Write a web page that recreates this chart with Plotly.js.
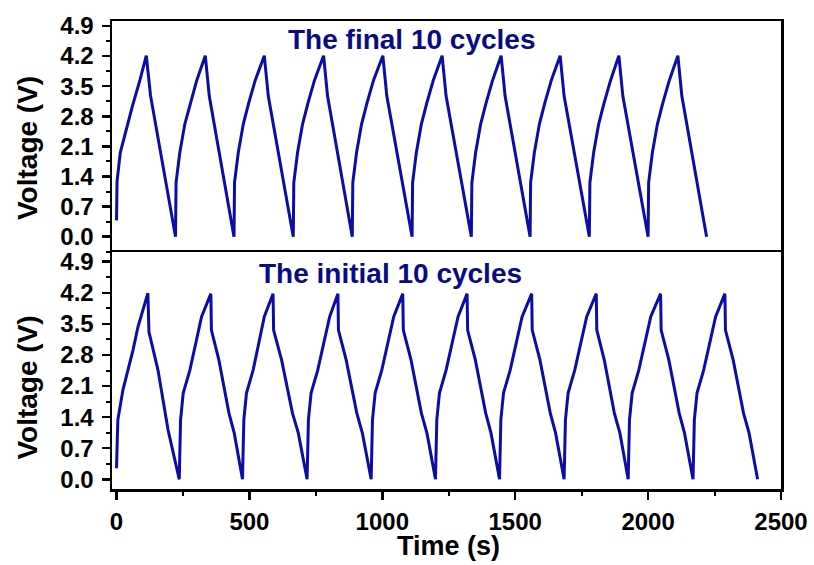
<!DOCTYPE html>
<html>
<head>
<meta charset="utf-8">
<script src="https://cdn.plot.ly/plotly-3.0.1.min.js"></script>
<style>
  html, body { margin: 0; padding: 0; background: #ffffff; }
  #chart { width: 814px; height: 565px; }
</style>
</head>
<body>
<div id="chart"></div>
<script>
// Galvanostatic charge/discharge profiles, one row per cycle.

// Final 10 cycles (upper panel)
const finalTime = [
  0, 2, 14, 34, 59, 88, 112, 128, 222,
  224, 238, 257, 277, 302, 334, 349, 442,
  444, 458, 477, 497, 522, 556, 571, 665,
  667, 681, 700, 720, 745, 779, 794, 887,
  889, 903, 922, 942, 967, 1002, 1017, 1112,
  1114, 1128, 1147, 1167, 1192, 1225, 1240, 1335,
  1337, 1351, 1370, 1390, 1415, 1447, 1462, 1556,
  1558, 1572, 1591, 1611, 1636, 1669, 1684, 1779,
  1781, 1795, 1814, 1834, 1859, 1890, 1905, 2000,
  2002, 2016, 2035, 2055, 2080, 2112, 2127, 2220
];
const finalVoltage = [
  0.38, 1.28, 1.95, 2.45, 3.02, 3.64, 4.21, 3.28, 0.00,
  1.26, 1.95, 2.62, 3.10, 3.64, 4.21, 3.27, 0.00,
  1.26, 1.95, 2.62, 3.10, 3.64, 4.21, 3.27, 0.00,
  1.26, 1.95, 2.62, 3.10, 3.64, 4.21, 3.27, 0.00,
  1.26, 1.95, 2.62, 3.10, 3.64, 4.21, 3.27, 0.00,
  1.26, 1.95, 2.62, 3.10, 3.64, 4.21, 3.27, 0.00,
  1.26, 1.95, 2.62, 3.10, 3.64, 4.21, 3.27, 0.00,
  1.26, 1.95, 2.62, 3.10, 3.64, 4.21, 3.27, 0.00,
  1.26, 1.95, 2.62, 3.10, 3.64, 4.21, 3.27, 0.00,
  1.26, 1.95, 2.62, 3.10, 3.64, 4.21, 3.27, 0.00
];

// Initial 10 cycles (lower panel)
const initialTime = [
  0, 5, 24, 62, 81, 118, 122, 156, 194, 236,
  241, 251, 276, 301, 320, 355, 357, 385, 423, 443, 474,
  479, 489, 514, 539, 556, 589, 591, 621, 662, 684, 717,
  722, 732, 757, 782, 802, 833, 835, 864, 904, 925, 958,
  963, 973, 998, 1023, 1043, 1077, 1079, 1108, 1147, 1168, 1200,
  1205, 1215, 1240, 1265, 1285, 1319, 1321, 1350, 1389, 1409, 1441,
  1446, 1456, 1481, 1506, 1526, 1562, 1564, 1593, 1632, 1652, 1684,
  1689, 1699, 1724, 1749, 1769, 1805, 1807, 1835, 1873, 1894, 1925,
  1930, 1940, 1965, 1990, 2010, 2047, 2049, 2078, 2117, 2137, 2169,
  2174, 2184, 2209, 2234, 2254, 2289, 2291, 2320, 2359, 2380, 2412
];
const initialVoltage = [
  0.25, 1.34, 2.01, 2.91, 3.44, 4.19, 3.32, 2.46, 1.11, 0.00,
  1.34, 1.94, 2.46, 3.14, 3.66, 4.18, 3.36, 2.69, 1.49, 1.04, 0.00,
  1.34, 1.94, 2.46, 3.14, 3.66, 4.18, 3.36, 2.69, 1.49, 1.04, 0.00,
  1.34, 1.94, 2.46, 3.14, 3.66, 4.18, 3.36, 2.69, 1.49, 1.04, 0.00,
  1.34, 1.94, 2.46, 3.14, 3.66, 4.18, 3.36, 2.69, 1.49, 1.04, 0.00,
  1.34, 1.94, 2.46, 3.14, 3.66, 4.18, 3.36, 2.69, 1.49, 1.04, 0.00,
  1.34, 1.94, 2.46, 3.14, 3.66, 4.18, 3.36, 2.69, 1.49, 1.04, 0.00,
  1.34, 1.94, 2.46, 3.14, 3.66, 4.18, 3.36, 2.69, 1.49, 1.04, 0.00,
  1.34, 1.94, 2.46, 3.14, 3.66, 4.18, 3.36, 2.69, 1.49, 1.04, 0.00,
  1.34, 1.94, 2.46, 3.14, 3.66, 4.18, 3.36, 2.69, 1.49, 1.04, 0.00
];

const panelLabels = ['The final 10 cycles', 'The initial 10 cycles'];
const yTitle = 'Voltage (V)';
const xTitle = 'Time (s)';

const lineColor = '#0c0ca6';
const textColor = '#0a0a84';
const FONT = 'Arial, "Liberation Sans", sans-serif';

const traces = [
  { x: finalTime, y: finalVoltage, xaxis: 'x2', yaxis: 'y2', type: 'scatter', mode: 'lines',
    line: { color: lineColor, width: 3 }, hoverinfo: 'skip' },
  { x: initialTime, y: initialVoltage, xaxis: 'x', yaxis: 'y', type: 'scatter', mode: 'lines',
    line: { color: lineColor, width: 3 }, hoverinfo: 'skip' }
];

const tickFont = { family: FONT, size: 24, color: '#000', weight: 'bold' };

function voltageAxis(domain, range) {
  return {
    domain: domain, range: range, autorange: false,
    tick0: 0, dtick: 0.7, tickformat: '.1f',
    ticks: 'outside', ticklen: 8, tickwidth: 2.5, tickcolor: '#000',
    minor: { dtick: 0.35, tick0: 0, ticks: 'outside', ticklen: 4, tickwidth: 2, tickcolor: '#000' },
    showline: true, linewidth: 2.5, linecolor: '#000', mirror: true,
    showgrid: false, zeroline: false,
    tickfont: tickFont, ticklabelstandoff: 3
  };
}

const layout = {
  width: 814, height: 565,
  margin: { l: 112, r: 33, t: 21, b: 76 },
  paper_bgcolor: '#ffffff', plot_bgcolor: '#ffffff',
  showlegend: false,
  xaxis: {
    anchor: 'y', domain: [0, 1], range: [-17, 2500], autorange: false,
    tick0: 0, dtick: 500,
    ticks: 'outside', ticklen: 8, tickwidth: 2.5, tickcolor: '#000',
    minor: { dtick: 250, tick0: 0, ticks: 'outside', ticklen: 4, tickwidth: 2, tickcolor: '#000' },
    showline: true, linewidth: 2.5, linecolor: '#000', mirror: true,
    showgrid: false, zeroline: false,
    tickfont: tickFont, ticklabelstandoff: 2
  },
  // upper panel: only its top border is drawn here; the divider comes from the lower panel
  xaxis2: {
    anchor: 'y2', matches: 'x', side: 'top', domain: [0, 1], range: [-17, 2500], autorange: false,
    showticklabels: false, ticks: '',
    showline: true, linewidth: 2.5, linecolor: '#000', mirror: false,
    showgrid: false, zeroline: false
  },
  yaxis: Object.assign(voltageAxis([0, 0.5064], [-0.218, 5.118]), { anchor: 'x' }),
  yaxis2: Object.assign(voltageAxis([0.5064, 1], [-0.356, 5.016]), { anchor: 'x2' }),
  annotations: [
    { text: panelLabels[0], xref: 'paper', yref: 'paper', x: 0.4484, y: 0.9615,
      xanchor: 'center', yanchor: 'middle', showarrow: false,
      font: { family: FONT, size: 28, color: textColor, weight: 'bold' } },
    { text: panelLabels[1], xref: 'paper', yref: 'paper', x: 0.417, y: 0.4605,
      xanchor: 'center', yanchor: 'middle', showarrow: false,
      font: { family: FONT, size: 28, color: textColor, weight: 'bold' } },
    { text: yTitle, xref: 'paper', yref: 'paper', x: -0.1263, y: 0.7276, textangle: -90,
      xanchor: 'center', yanchor: 'middle', showarrow: false,
      font: { family: FONT, size: 28, color: '#000', weight: 'bold' } },
    { text: yTitle, xref: 'paper', yref: 'paper', x: -0.1263, y: 0.2158, textangle: -90,
      xanchor: 'center', yanchor: 'middle', showarrow: false,
      font: { family: FONT, size: 28, color: '#000', weight: 'bold' } },
    { text: xTitle, xref: 'paper', yref: 'paper', x: 0.5037, y: -0.1218,
      xanchor: 'center', yanchor: 'middle', showarrow: false,
      font: { family: FONT, size: 27, color: '#000', weight: 'bold' } }
  ]
};

Plotly.newPlot('chart', traces, layout, { staticPlot: true, displayModeBar: false });
</script>
</body>
</html>
